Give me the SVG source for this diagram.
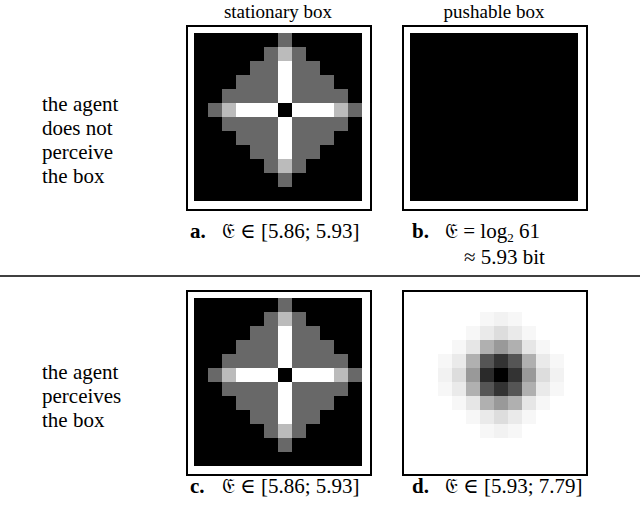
<svg xmlns="http://www.w3.org/2000/svg" width="640" height="505" viewBox="0 0 640 505" font-family="'Liberation Serif','DejaVu Serif',serif">
<style>
text{font-family:"Liberation Serif","DejaVu Serif",serif;fill:#000}
.h{font-size:19px;text-anchor:middle}
.l{font-size:21px}
.c{font-size:21px}
.b{font-weight:bold}
.fr{fill:#fff;stroke:#000;stroke-width:2}
</style>
<defs>
<g id="cross">
<rect x="0" y="0" width="168" height="168" fill="#000"/>
<g fill="#686868">
<rect x="84" y="0" width="14" height="14"/>
<rect x="70" y="14" width="42" height="14"/>
<rect x="56" y="28" width="70" height="14"/>
<rect x="42" y="42" width="98" height="14"/>
<rect x="28" y="56" width="126" height="14"/>
<rect x="14" y="70" width="154" height="14"/>
<rect x="28" y="84" width="126" height="14"/>
<rect x="42" y="98" width="98" height="14"/>
<rect x="56" y="112" width="70" height="14"/>
<rect x="70" y="126" width="42" height="14"/>
<rect x="84" y="140" width="14" height="14"/>
</g>
<g fill="#bbb">
<rect x="84" y="14" width="14" height="14"/>
<rect x="84" y="126" width="14" height="14"/>
<rect x="28" y="70" width="14" height="14"/>
<rect x="140" y="70" width="14" height="14"/>
</g>
<g fill="#fff">
<rect x="84" y="28" width="14" height="42"/>
<rect x="84" y="84" width="14" height="42"/>
<rect x="42" y="70" width="42" height="14"/>
<rect x="98" y="70" width="42" height="14"/>
</g>
<rect x="84" y="70" width="14" height="14" fill="#000"/>
</g>
</defs>
<text class="h" x="278" y="18">stationary box</text>
<text class="h" x="494" y="18">pushable box</text>
<g id="labels-left" class="l">
<text x="42" y="111">the agent</text>
<text x="42" y="135">does not</text>
<text x="42" y="159">perceive</text>
<text x="42" y="183">the box</text>
<text x="42" y="379">the agent</text>
<text x="42" y="403">perceives</text>
<text x="42" y="427">the box</text>
</g>
<line x1="0" y1="276" x2="640" y2="276" stroke="#000" stroke-width="1.5"/>
<g id="panel-a">
<rect class="fr" x="187" y="26" width="184" height="184"/>
<use href="#cross" x="194" y="33"/>
<text class="c" x="190" y="238"><tspan class="b">a.</tspan><tspan x="222">𝔈 ∈ [5.86; 5.93]</tspan></text>
</g>
<g id="panel-b">
<rect class="fr" x="403" y="26" width="184" height="184"/>
<rect x="410" y="33" width="168" height="168" fill="#000"/>
<text class="c" x="412" y="238"><tspan class="b">b.</tspan><tspan x="445">𝔈 = log</tspan><tspan font-size="13" dy="4">2</tspan><tspan dy="-4"> 61</tspan></text>
<text class="c" x="464" y="264">≈ 5.93 bit</text>
</g>
<g id="panel-c">
<rect class="fr" x="187" y="291" width="184" height="184"/>
<use href="#cross" x="194" y="298"/>
<text class="c" x="190" y="493"><tspan class="b">c.</tspan><tspan x="222">𝔈 ∈ [5.86; 5.93]</tspan></text>
</g>
<g id="panel-d">
<rect class="fr" x="403" y="291" width="184" height="184"/>
<g transform="translate(410,298)">
<rect x="84" y="70" width="14" height="14" fill="#000"/>
<rect x="70" y="70" width="14" height="14" fill="#2a2a2a"/>
<rect x="98" y="70" width="14" height="14" fill="#333"/>
<rect x="84" y="56" width="14" height="14" fill="#333"/>
<rect x="84" y="84" width="14" height="14" fill="#333"/>
<g fill="#555"><rect x="70" y="56" width="14" height="14"/><rect x="98" y="56" width="14" height="14"/><rect x="70" y="84" width="14" height="14"/><rect x="98" y="84" width="14" height="14"/></g>
<g fill="#999"><rect x="84" y="42" width="14" height="14"/><rect x="84" y="98" width="14" height="14"/><rect x="56" y="70" width="14" height="14"/><rect x="112" y="70" width="14" height="14"/></g>
<g fill="#b0b0b0"><rect x="70" y="42" width="14" height="14"/><rect x="98" y="42" width="14" height="14"/><rect x="70" y="98" width="14" height="14"/><rect x="98" y="98" width="14" height="14"/><rect x="56" y="56" width="14" height="14"/><rect x="112" y="56" width="14" height="14"/><rect x="56" y="84" width="14" height="14"/><rect x="112" y="84" width="14" height="14"/></g>
<g fill="#e6e6e6"><rect x="56" y="42" width="14" height="14"/><rect x="112" y="42" width="14" height="14"/><rect x="56" y="98" width="14" height="14"/><rect x="112" y="98" width="14" height="14"/></g>
<g fill="#ddd"><rect x="84" y="28" width="14" height="14"/><rect x="84" y="112" width="14" height="14"/><rect x="42" y="70" width="14" height="14"/><rect x="126" y="70" width="14" height="14"/></g>
<g fill="#eaeaea"><rect x="70" y="28" width="14" height="14"/><rect x="98" y="28" width="14" height="14"/><rect x="70" y="112" width="14" height="14"/><rect x="98" y="112" width="14" height="14"/><rect x="42" y="56" width="14" height="14"/><rect x="126" y="56" width="14" height="14"/><rect x="42" y="84" width="14" height="14"/><rect x="126" y="84" width="14" height="14"/></g>
<g fill="#f2f2f2"><rect x="84" y="14" width="14" height="14"/><rect x="84" y="126" width="14" height="14"/><rect x="28" y="70" width="14" height="14"/><rect x="140" y="70" width="14" height="14"/></g>
<g fill="#f7f7f7"><rect x="56" y="28" width="14" height="14"/><rect x="112" y="28" width="14" height="14"/><rect x="56" y="112" width="14" height="14"/><rect x="112" y="112" width="14" height="14"/><rect x="42" y="42" width="14" height="14"/><rect x="126" y="42" width="14" height="14"/><rect x="42" y="98" width="14" height="14"/><rect x="126" y="98" width="14" height="14"/><rect x="70" y="14" width="14" height="14"/><rect x="98" y="14" width="14" height="14"/><rect x="70" y="126" width="14" height="14"/><rect x="98" y="126" width="14" height="14"/><rect x="28" y="56" width="14" height="14"/><rect x="140" y="56" width="14" height="14"/><rect x="28" y="84" width="14" height="14"/><rect x="140" y="84" width="14" height="14"/></g>
</g>
<text class="c" x="412" y="493"><tspan class="b">d.</tspan><tspan x="445">𝔈 ∈ [5.93; 7.79]</tspan></text>
</g>
</svg>
